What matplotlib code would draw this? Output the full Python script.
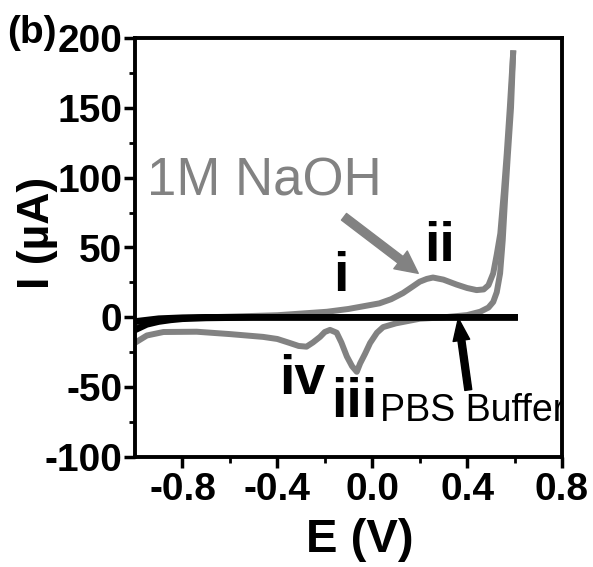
import matplotlib
matplotlib.use('Agg')
import matplotlib.pyplot as plt

plt.rcParams['font.family'] = ['Liberation Sans', 'DejaVu Sans']
plt.rcParams['axes.unicode_minus'] = False

# 1M NaOH: anodic sweep
naoh_fwd_e = [-1.0, -0.95, -0.9, -0.8, -0.6, -0.4, -0.19, -0.1, 0.03, 0.08, 0.13,
              0.17, 0.2, 0.23, 0.256, 0.3, 0.355, 0.4, 0.44, 0.47, 0.49, 0.51,
              0.525, 0.54, 0.555, 0.567, 0.58, 0.594]
naoh_fwd_i = [-8, -4, -2, -0.5, 0.5, 1.5, 4, 6, 10, 13, 17.4, 22, 25.5, 27.5, 28.5,
              27, 23.5, 21, 19.5, 20, 23, 31.5, 45, 60, 90, 117, 150, 189]
# 1M NaOH: cathodic sweep
naoh_rev_e = [0.594, 0.585, 0.572, 0.56, 0.55, 0.539, 0.525, 0.51, 0.49, 0.455,
              0.4, 0.3, 0.2, 0.1, 0.046, 0.02, -0.009, -0.03, -0.051, -0.065,
              -0.085, -0.107, -0.13, -0.15, -0.178, -0.2, -0.22, -0.25, -0.277,
              -0.31, -0.347, -0.4, -0.46, -0.6, -0.74, -0.88, -0.95, -0.993]
naoh_rev_i = [189, 150, 117, 85, 55, 31.5, 18, 11, 7, 4, 1.6, 0, -1, -4.3, -7, -11,
              -18.4, -26, -33, -39, -35, -28, -18, -11, -9, -10.5, -14, -18, -21,
              -20.5, -18.4, -15.5, -14, -12, -10.3, -10.5, -13, -17.5]

# PBS buffer
pbs_fwd_e = [-1.0, -0.95, -0.9, -0.85, -0.8, -0.7, -0.5, 0.6]
pbs_fwd_i = [-9, -5, -3, -1.8, -1, -0.4, 0, 0]
pbs_rev_e = [0.6, -0.7, -0.8, -0.9, -1.0]
pbs_rev_i = [0, 0, -0.3, -1, -3]

xticks = [-0.8, -0.4, 0.0, 0.4, 0.8]
yticks = [-100, -50, 0, 50, 100, 150, 200]
peak_labels = ['i', 'ii', 'iv', 'iii']
peak_x = [-0.131, 0.282, -0.294, -0.077]
peak_y = [29, 50.5, -45, -61.5]

W, H = 593, 567
fig = plt.figure(figsize=(W / 100, H / 100), dpi=100)
ax = fig.add_axes([135 / W, 1 - 457 / H, 427 / W, 419 / H])

gray = '#828282'
ax.plot(naoh_fwd_e, naoh_fwd_i, color=gray, lw=4.3, solid_joinstyle='round', zorder=2)
ax.plot(naoh_rev_e, naoh_rev_i, color=gray, lw=4.3, solid_joinstyle='round', zorder=2)
ax.plot(pbs_fwd_e, pbs_fwd_i, color='black', lw=4.8, zorder=3)
ax.plot(pbs_rev_e, pbs_rev_i, color='black', lw=4.8, zorder=3)

ax.set_xlim(-1.0, 0.8)
ax.set_ylim(-100, 200)
ax.set_xticks(xticks)
ax.set_xticklabels(['%.1f' % v for v in xticks])
ax.set_yticks(yticks)
ax.set_xticks([-0.6, -0.2, 0.2, 0.6], minor=True)
ax.set_yticks([-75, -25, 25, 75, 125, 175], minor=True)
ax.tick_params(which='major', direction='out', length=8, width=2.5, pad=1,
               labelsize=28)
ax.tick_params(axis='x', which='major', pad=3)
ax.tick_params(which='minor', direction='out', length=4, width=2)
for lab in ax.get_xticklabels() + ax.get_yticklabels():
    lab.set_fontweight('bold')
for s in ax.spines.values():
    s.set_linewidth(2.8)

fig.text(360 / W, 1 - 540 / H, 'E (V)', fontsize=34, fontweight='bold',
         ha='center', va='center')
fig.text(37 / W, 1 - 233 / H, 'I (µA)', fontsize=32, fontweight='bold',
         ha='center', va='center', rotation=90)
fig.text(57 / W, 1 - 33 / H, '(b)', fontsize=28, fontweight='bold',
         ha='right', va='center')

ax.text(-0.951, 97.6, '1M NaOH', color=gray, fontsize=38, ha='left', va='center')
ax.annotate('', xy=(0.194, 31.5), xytext=(-0.119, 72),
            arrowprops=dict(facecolor=gray, edgecolor=gray, width=6,
                            headwidth=16, headlength=16))
ax.text(0.033, -67, 'PBS Buffer', color='black', fontsize=27, ha='left',
        va='center', zorder=1, clip_on=True)
ax.annotate('', xy=(0.363, -0.7), xytext=(0.405, -52),
            arrowprops=dict(facecolor='black', edgecolor='black', width=5,
                            headwidth=12, headlength=16))

for txt, x, y in zip(peak_labels, peak_x, peak_y):
    ax.text(x, y, txt, fontsize=40, fontweight='bold', ha='center', va='center')

fig.savefig('out.png', dpi=100)
